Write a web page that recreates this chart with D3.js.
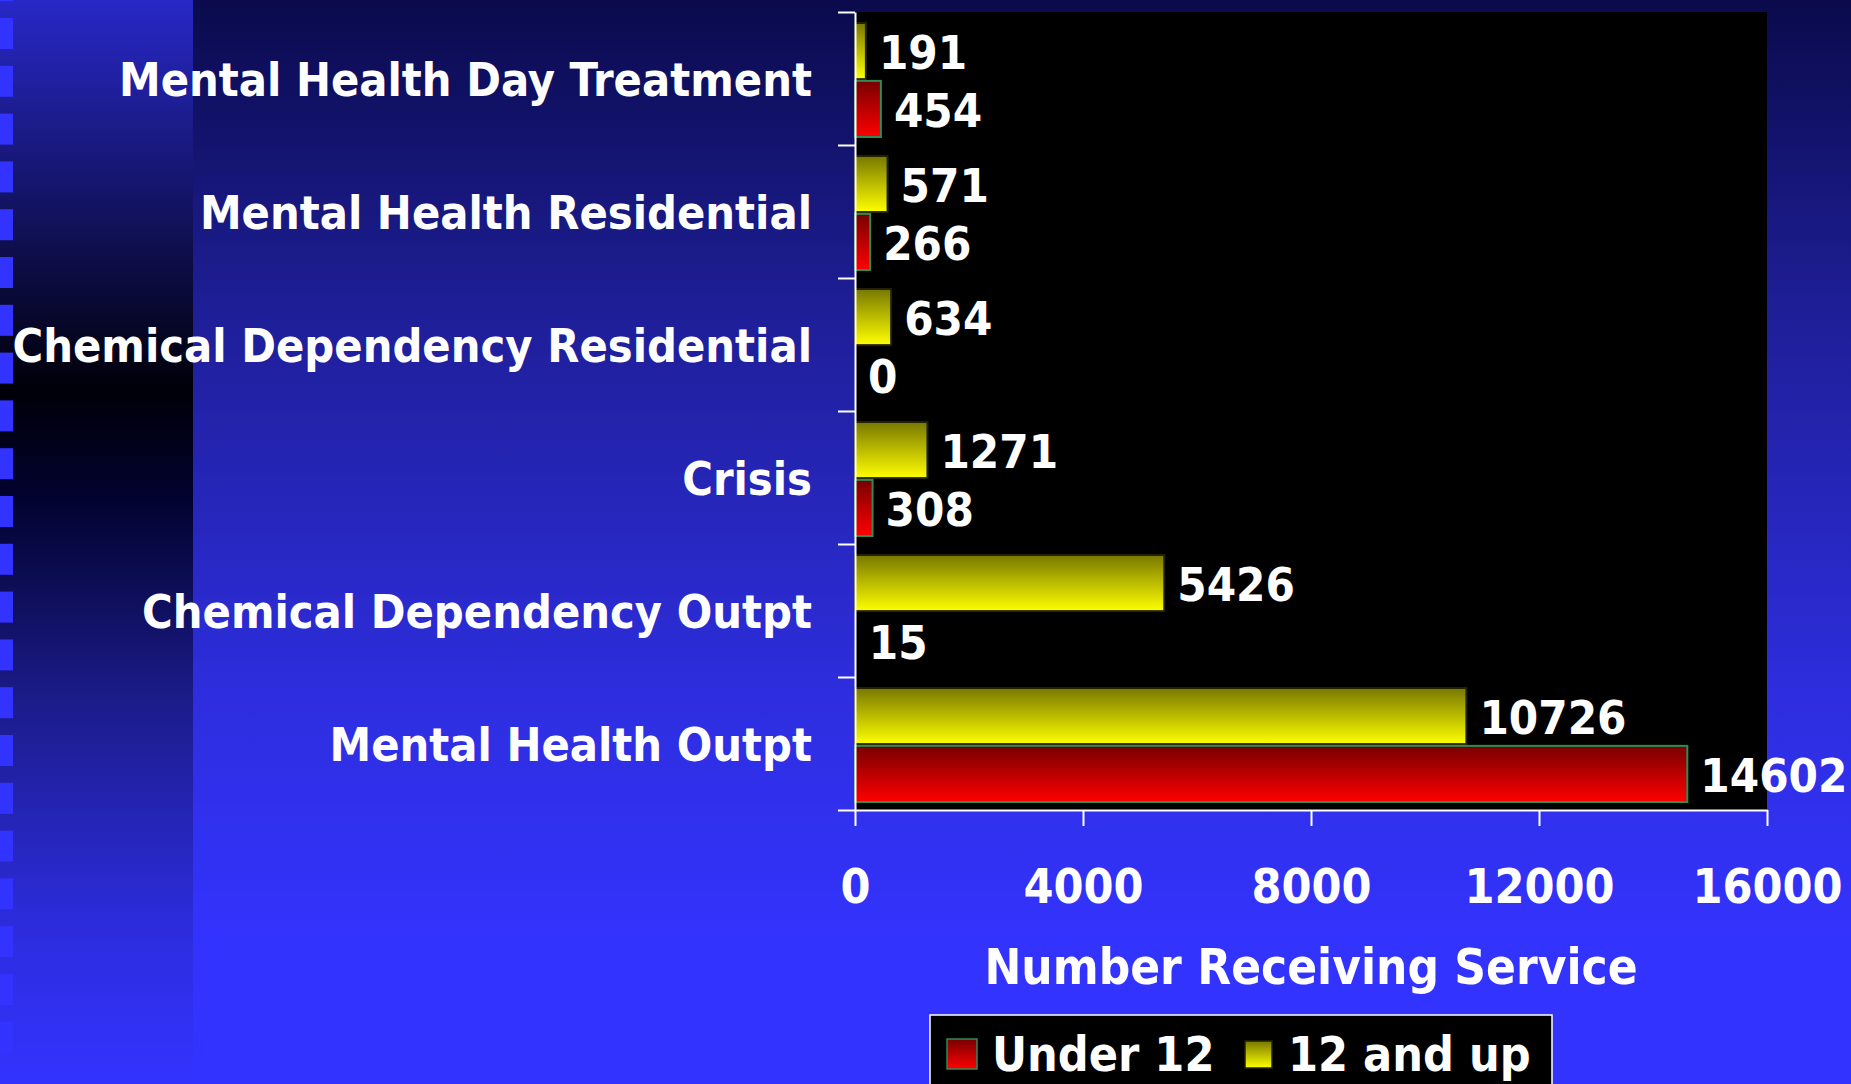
<!doctype html>
<html>
<head>
<style>
  body { margin: 0; background: #3333ff; }
  svg { display: block; }
  text { font-family: "DejaVu Sans Condensed", "DejaVu Sans", Verdana, sans-serif; font-stretch: condensed; font-weight: bold; fill: #fff; }
</style>
<script src="https://d3js.org/d3.v7.min.js"></script>
</head>
<body>
<svg width="1851" height="1084"></svg>
<script>
  var categories = ["Mental Health Day Treatment", "Mental Health Residential", "Chemical Dependency Residential",
                    "Crisis", "Chemical Dependency Outpt", "Mental Health Outpt"];
  var under12 = [454, 266, 0, 308, 15, 14602];
  var twelveUp = [191, 571, 634, 1271, 5426, 10726];
  var xTicks = [0, 4000, 8000, 12000, 16000];
  var seriesNames = ["Under 12", "12 and up"];

  var svg = d3.select("svg"),
    W = +svg.attr("width"),
    H = +svg.attr("height");

  var plot = { left: 855, right: 1767, top: 12, bottom: 810 };

  var defs = svg.append("defs");
  function grad(id, stops) {
    var g = defs.append("linearGradient").attr("id", id)
      .attr("x1", 0).attr("y1", 0).attr("x2", 0).attr("y2", 1);
    stops.forEach(function (s) {
      g.append("stop").attr("offset", s[0]).attr("stop-color", s[1]);
    });
  }
  grad("bgMain", [[0, "#0a0a4c"], [0.28, "#1e1e96"], [0.65, "#2e2ee0"], [0.88, "#3333ff"], [1, "#3333ff"]]);
  grad("bgLeft", [[0, "#2828c8"], [0.36, "#000008"], [0.46, "#020230"], [0.65, "#1c1c8c"], [0.85, "#2c2cdc"], [1, "#3333ff"]]);
  grad("redFill", [[0, "#780000"], [1, "#ff0000"]]);
  grad("yellowFill", [[0, "#787800"], [1, "#ffff00"]]);

  // background
  svg.append("rect").attr("width", W).attr("height", H).attr("fill", "url(#bgMain)");
  svg.append("rect").attr("width", 193).attr("height", H).attr("fill", "url(#bgLeft)");
  svg.append("g").selectAll("rect")
    .data(d3.range(23))
    .enter().append("rect")
    .attr("x", 0)
    .attr("y", function (k) { return 18 + k * 47.8 - 47.8; })
    .attr("width", 13)
    .attr("height", 31)
    .attr("fill", "#3333ff");

  svg.append("rect")
    .attr("x", plot.left).attr("y", plot.top)
    .attr("width", plot.right - plot.left).attr("height", plot.bottom - plot.top)
    .attr("fill", "#000");

  var xScale = d3.scaleLinear().domain([0, 16000]).range([plot.left, plot.right]);
  var yScale = d3.scaleBand().domain(categories).range([plot.top, plot.bottom]);
  var ySub = d3.scaleBand().domain(["12 and up", "Under 12"]).range([11, 125]).paddingInner(0.03);

  var fills = { "Under 12": "url(#redFill)", "12 and up": "url(#yellowFill)" };
  var strokes = { "Under 12": "#2e8b57", "12 and up": "#222200" };

  var rows = [];
  categories.forEach(function (c, i) {
    rows.push({ cat: c, series: "12 and up", value: twelveUp[i] });
    rows.push({ cat: c, series: "Under 12", value: under12[i] });
  });

  var g = svg.append("g");

  g.selectAll(".bar")
    .data(rows)
    .enter().append("rect")
    .attr("class", "bar")
    .attr("x", xScale(0))
    .attr("y", function (d) { return yScale(d.cat) + ySub(d.series); })
    .attr("width", function (d) { return xScale(d.value) - xScale(0); })
    .attr("height", ySub.bandwidth())
    .attr("fill", function (d) { return fills[d.series]; })
    .attr("stroke", function (d) { return xScale(d.value) - xScale(0) > 2 ? strokes[d.series] : "none"; })
    .attr("stroke-width", 2);

  g.selectAll(".val")
    .data(rows)
    .enter().append("text")
    .attr("class", "val")
    .attr("x", function (d) { return xScale(d.value) + 13; })
    .attr("y", function (d) { return yScale(d.cat) + ySub(d.series) + ySub.bandwidth() / 2 + 18; })
    .style("font-size", "47px")
    .text(function (d) { return d.value; });

  // category labels
  svg.append("g").selectAll("text")
    .data(categories)
    .enter().append("text")
    .attr("x", 812)
    .attr("y", function (d) { return yScale(d) + yScale.bandwidth() / 2 + 17; })
    .attr("text-anchor", "end")
    .style("font-size", "46.5px")
    .text(function (d) { return d; });

  // y axis with ticks on category boundaries
  var yEdges = d3.scaleLinear().domain([0, categories.length]).range([plot.top, plot.bottom]);
  var yAxis = svg.append("g")
    .attr("transform", "translate(" + plot.left + ",0)")
    .call(d3.axisLeft(yEdges).tickValues(d3.range(categories.length + 1)).tickSize(17).tickSizeOuter(0).tickFormat(""));
  yAxis.select(".domain").attr("stroke", "#fff").attr("stroke-width", 2);
  yAxis.selectAll("line").attr("stroke", "#fff").attr("stroke-width", 2);

  // x axis
  var xAxis = svg.append("g")
    .attr("transform", "translate(0," + plot.bottom + ")")
    .call(d3.axisBottom(xScale).tickValues(xTicks).tickSize(16).tickSizeOuter(0).tickFormat(d3.format("d")));
  xAxis.select(".domain").attr("stroke", "#fff").attr("stroke-width", 2);
  xAxis.selectAll("line").attr("stroke", "#fff").attr("stroke-width", 2);
  xAxis.selectAll("text")
    .attr("y", 93).attr("dy", 0)
    .attr("fill", "#fff")
    .style("font-size", "48px")
    .style("font-family", "'DejaVu Sans Condensed', 'DejaVu Sans', Verdana, sans-serif")
    .style("font-stretch", "condensed")
    .style("font-weight", "bold");

  svg.append("text")
    .attr("x", 1311)
    .attr("y", 984)
    .attr("text-anchor", "middle")
    .style("font-size", "49px")
    .text("Number Receiving Service");

  // legend
  var legend = svg.append("g");
  legend.append("rect")
    .attr("x", 930).attr("y", 1015).attr("width", 622).attr("height", 90)
    .attr("fill", "#000").attr("stroke", "#fff").attr("stroke-width", 1.5);
  var legendItems = [
    { name: seriesNames[0], sx: 947, sy: 1039, size: 30, tx: 992 },
    { name: seriesNames[1], sx: 1245, sy: 1041, size: 27, tx: 1288 }
  ];
  legend.selectAll(".sw")
    .data(legendItems)
    .enter().append("rect")
    .attr("class", "sw")
    .attr("x", function (d) { return d.sx; })
    .attr("y", function (d) { return d.sy; })
    .attr("width", function (d) { return d.size; })
    .attr("height", function (d) { return d.size; })
    .attr("fill", function (d) { return fills[d.name]; })
    .attr("stroke", function (d) { return strokes[d.name]; })
    .attr("stroke-width", 1.5);
  legend.selectAll(".lt")
    .data(legendItems)
    .enter().append("text")
    .attr("class", "lt")
    .attr("x", function (d) { return d.tx; })
    .attr("y", 1071)
    .style("font-size", "48px")
    .text(function (d) { return d.name; });
</script>
</body>
</html>
